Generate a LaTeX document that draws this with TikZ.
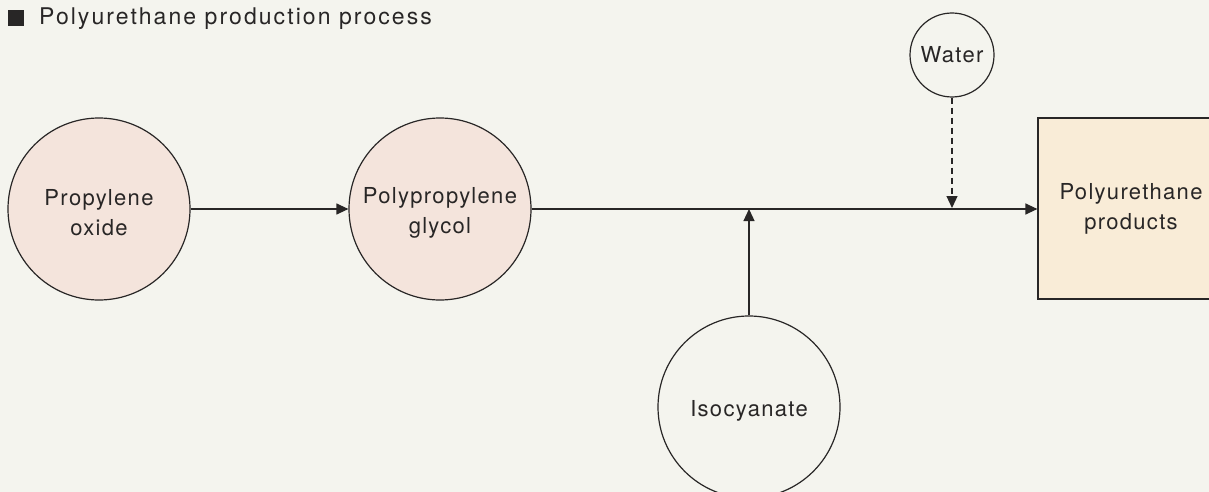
\documentclass[tikz,border=0pt]{standalone}
\usepackage{fontspec}
\setmainfont{TeX Gyre Heros}[LetterSpace=6]
\usetikzlibrary{arrows.meta}
\definecolor{bg}{RGB}{244,244,238}
\definecolor{pinkfill}{RGB}{244,228,220}
\definecolor{boxfill}{RGB}{249,236,215}
\definecolor{ink}{RGB}{40,38,38}
\begin{document}
\begin{tikzpicture}[x=1pt,y=-1pt,
  every node/.style={font=\fontsize{22}{30}\selectfont, text=ink, align=center},
  proc/.style={circle, draw=ink, line width=1.2pt, minimum size=182pt, inner sep=0pt},
  pinkc/.style={proc, fill=pinkfill},
  whitec/.style={proc, fill=bg},
  lbl/.style={label={[yshift=-4pt]center:#1}},
  conn/.style={draw=ink, line width=1.2pt, -{Triangle[length=12pt,width=11pt]}},
  dashconn/.style={conn, dash pattern=on 6pt off 4pt}]
\fill[bg] (0,0) rectangle (1209,492);
\useasboundingbox (0,0) rectangle (1209,492);
% title
\node[fill=ink, minimum size=16pt, inner sep=0pt] (sq) at (16,18) {};
\node[anchor=west, inner sep=0pt, font=\fontsize{23}{27}\selectfont\addfontfeature{LetterSpace=9}] (title) at (39,19) {Polyurethane production process};
% nodes
\node[pinkc, lbl={Propylene\\oxide}] (po) at (99,209) {};
\node[pinkc, lbl={Polypropylene\\glycol}] (ppg) at (440,209) {};
\node[whitec, lbl={Isocyanate}] (iso) at (749,407) {};
\node[whitec, minimum size=84pt] (water) at (952,55) {Water};
\node[draw=ink, line width=1.2pt, fill=boxfill, minimum width=186pt, minimum height=181pt, inner sep=0pt] (pu) at (1131,208.5) {Polyurethane\\products};
\coordinate (jiso) at (749,209);
\coordinate (jw) at (952,208);
% connectors
\draw[conn] (po) -- (ppg);
\draw[conn] (ppg.east) -- (pu.west |- ppg.east);
\draw[conn] (iso) -- (jiso);
\draw[dashconn] (water) -- (jw);
\end{tikzpicture}
\end{document}
